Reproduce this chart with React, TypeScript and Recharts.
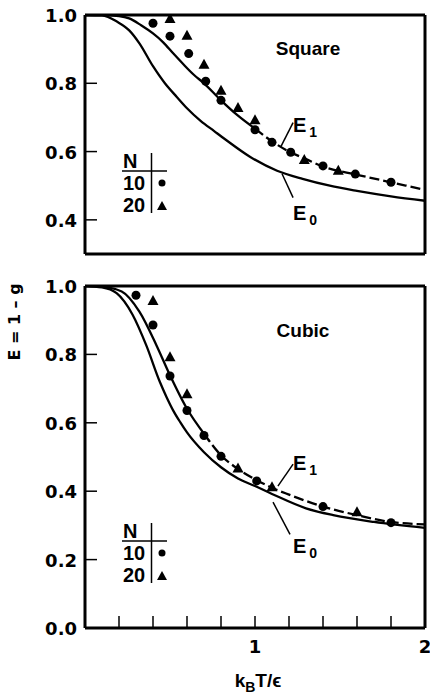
import React from "react";
import { ComposedChart, Line, Scatter, XAxis, YAxis, ReferenceLine } from "recharts";

// k_B T / epsilon positions of the inner tick marks
const X_TICKS = [0.2, 0.4, 0.6, 0.8, 1.0, 1.2, 1.4, 1.6, 1.8];
const X_TICKS_LABELLED = [0.2, 0.4, 0.6, 0.8, 1.0, 1.2, 1.4, 1.6, 1.8, 2.0];
const SQUARE_Y_TICKS = [0.4, 0.6, 0.8, 1.0];
const CUBIC_Y_TICKS = [0.0, 0.2, 0.4, 0.6, 0.8, 1.0];

// Square lattice
const squareE0: [number, number][] = [
  [0, 1.0], [0.1, 0.999], [0.19, 0.98], [0.26, 0.955], [0.32, 0.917], [0.4, 0.85],
  [0.47, 0.8], [0.54, 0.76], [0.6, 0.727], [0.68, 0.69], [0.76, 0.66], [0.83, 0.634],
  [0.97, 0.585], [1.13, 0.544], [1.28, 0.52], [1.44, 0.5], [1.6, 0.485], [1.8, 0.469], [2.0, 0.456],
];
const squareE1: [number, number][] = [
  [0, 1.0], [0.1, 1.0], [0.2, 0.997], [0.26, 0.99], [0.33, 0.97], [0.4, 0.946], [0.46, 0.92],
  [0.52, 0.887], [0.58, 0.855], [0.64, 0.825], [0.7, 0.8], [0.8, 0.75], [0.9, 0.705], [1.0, 0.667],
  [1.1, 0.63], [1.2, 0.6], [1.3, 0.578], [1.4, 0.556], [1.6, 0.532], [1.8, 0.51], [2.0, 0.488],
];
const squareN10: [number, number][] = [
  [0.4, 0.976], [0.5, 0.938], [0.61, 0.887], [0.71, 0.806], [0.8, 0.75], [1.0, 0.664],
  [1.1, 0.627], [1.21, 0.598], [1.4, 0.558], [1.59, 0.534], [1.8, 0.51],
];
const squareN20: [number, number][] = [
  [0.5, 0.987], [0.6, 0.938], [0.7, 0.853], [0.8, 0.777], [0.9, 0.726], [1.0, 0.69],
  [1.29, 0.574], [1.49, 0.542],
];

// Cubic lattice
const cubicE0: [number, number][] = [
  [0, 1.0], [0.1, 0.996], [0.186, 0.979], [0.28, 0.916], [0.36, 0.827], [0.44, 0.72],
  [0.48, 0.675], [0.52, 0.635], [0.56, 0.602], [0.6, 0.572], [0.7, 0.514], [0.8, 0.47],
  [0.9, 0.437], [1.0, 0.415], [1.1, 0.392], [1.3, 0.35], [1.46, 0.33], [1.7, 0.31], [2.0, 0.293],
];
const cubicE1: [number, number][] = [
  [0, 1.0], [0.1, 0.998], [0.216, 0.984], [0.32, 0.925], [0.42, 0.827], [0.5, 0.739],
  [0.6, 0.641], [0.7, 0.568], [0.8, 0.505], [0.9, 0.465], [1.0, 0.435], [1.1, 0.41],
  [1.2, 0.39], [1.4, 0.355], [1.6, 0.33], [1.8, 0.31], [2.0, 0.303],
];
const cubicN10: [number, number][] = [
  [0.3, 0.973], [0.4, 0.886], [0.5, 0.737], [0.6, 0.636], [0.7, 0.563], [0.8, 0.502],
  [1.01, 0.43], [1.4, 0.355], [1.8, 0.308],
];
const cubicN20: [number, number][] = [
  [0.4, 0.955], [0.5, 0.79], [0.6, 0.682], [0.9, 0.465], [1.1, 0.41], [1.6, 0.337],
];

// leader lines from curve labels to curves
const squareLeaders: [number, number, number, number][] = [
  [1.224, 0.685, 1.153, 0.615],
  [1.159, 0.535, 1.224, 0.465],
];
const cubicLeaders: [number, number, number, number][] = [
  [1.224, 0.479, 1.135, 0.415],
  [1.106, 0.368, 1.206, 0.274],
];

const toPts = (arr: [number, number][]) => arr.map(([x, y]) => ({ x, y }));

const FONT = "'DejaVu Sans', sans-serif";
const HELV = "'Liberation Sans', Arial, sans-serif";

const Circle = (p: any) => <circle cx={p.cx} cy={p.cy} r={4.5} fill="#000" />;
const Triangle = (p: any) => (
  <path
    d={`M${p.cx},${p.cy - 6.5}L${p.cx + 5.5},${p.cy + 3.5}L${p.cx - 5.5},${p.cy + 3.5}Z`}
    fill="#000"
  />
);

const YTick = (p: any) => (
  <text x={p.x - 20} y={p.y + 7} textAnchor="end" fontFamily={FONT} fontWeight="bold" fontSize={18} fill="#000">
    {Number(p.payload.value).toFixed(1)}
  </text>
);

const XTick = (p: any) =>
  Number.isInteger(p.payload.value) ? (
    <text x={p.x} y={p.y + 37} textAnchor="middle" fontFamily={FONT} fontWeight="bold" fontSize={18} fill="#000">
      {p.payload.value}
    </text>
  ) : (
    <g />
  );

const axisLine = { stroke: "#000", strokeWidth: 3 };
const tickLine = { stroke: "#000", strokeWidth: 1.5 };

interface PanelProps {
  e0: [number, number][];
  e1: [number, number][];
  n10: [number, number][];
  n20: [number, number][];
  yDomain: [number, number];
  yTicks: number[];
  dashFrom: number;
  height: number;
  topH: number;
  bottomH: number;
  xLabels: boolean;
  leaders: [number, number, number, number][];
}

function Panel({ e0, e1, n10, n20, yDomain, yTicks, dashFrom, height, topH, bottomH, xLabels, leaders }: PanelProps) {
  const e1Solid = toPts(e1.filter(([x]) => x <= dashFrom));
  const e1Dash = toPts(e1.filter(([x]) => x >= dashFrom));
  return (
    <ComposedChart width={430} height={height} margin={{ top: 0, right: 0, bottom: 0, left: 0 }}>
      <XAxis
        xAxisId="b"
        dataKey="x"
        type="number"
        domain={[0, 2]}
        ticks={xLabels ? X_TICKS_LABELLED : X_TICKS}
        interval={0}
        orientation="bottom"
        height={bottomH}
        tickSize={-12}
        tickMargin={0}
        axisLine={axisLine}
        tickLine={tickLine}
        tick={xLabels ? XTick : false}
        allowDataOverflow
      />
      <XAxis
        xAxisId="t"
        dataKey="x"
        type="number"
        domain={[0, 2]}
        ticks={X_TICKS}
        interval={0}
        orientation="top"
        height={topH}
        tickSize={-12}
        axisLine={axisLine}
        tickLine={tickLine}
        tick={false}
        allowDataOverflow
      />
      <YAxis
        yAxisId="l"
        dataKey="y"
        type="number"
        domain={yDomain}
        ticks={yTicks}
        interval={0}
        width={85}
        tickSize={-12}
        tickMargin={0}
        axisLine={axisLine}
        tickLine={tickLine}
        tick={YTick}
        allowDataOverflow
      />
      <YAxis
        yAxisId="r"
        dataKey="y"
        type="number"
        orientation="right"
        domain={yDomain}
        ticks={yTicks}
        interval={0}
        width={5}
        tickSize={-12}
        axisLine={axisLine}
        tickLine={tickLine}
        tick={false}
        allowDataOverflow
      />
      <Line xAxisId="b" yAxisId="l" data={toPts(e0)} dataKey="y" type="monotone" stroke="#000" strokeWidth={2.3} dot={false} isAnimationActive={false} />
      <Line xAxisId="b" yAxisId="l" data={e1Solid} dataKey="y" type="monotone" stroke="#000" strokeWidth={2.3} dot={false} isAnimationActive={false} />
      <Line xAxisId="b" yAxisId="l" data={e1Dash} dataKey="y" type="monotone" stroke="#000" strokeWidth={2.3} strokeDasharray="10 4" dot={false} isAnimationActive={false} />
      {leaders.map(([x1, y1, x2, y2], i) => (
        <ReferenceLine
          key={i}
          xAxisId="b"
          yAxisId="l"
          segment={[{ x: x1, y: y1 }, { x: x2, y: y2 }]}
          stroke="#000"
          strokeWidth={1.5}
        />
      ))}
      <Scatter xAxisId="b" yAxisId="l" data={toPts(n10)} dataKey="y" shape={Circle} isAnimationActive={false} />
      <Scatter xAxisId="b" yAxisId="l" data={toPts(n20)} dataKey="y" shape={Triangle} isAnimationActive={false} />
    </ComposedChart>
  );
}

function CurveLabel({ x, y, sub }: { x: number; y: number; sub: string }) {
  return (
    <text x={x} y={y} fontFamily={HELV} fontWeight="bold" fontSize={20} fill="#000">
      E
      <tspan fontSize={14} dx={3} dy={5}>
        {sub}
      </tspan>
    </text>
  );
}

function NLegend({ top }: { top: number }) {
  const t = (dy: number) => top + dy;
  return (
    <g fontFamily={HELV} fontWeight="bold" fontSize={20} fill="#000">
      <text x={123} y={t(15)}>N</text>
      <line x1={122} x2={167} y1={t(18)} y2={t(18)} stroke="#000" strokeWidth={1.5} />
      <line x1={151.5} x2={151.5} y1={t(0)} y2={t(60)} stroke="#000" strokeWidth={1.5} />
      <text x={123} y={t(37)}>10</text>
      <circle cx={162} cy={t(30)} r={3.5} fill="#000" />
      <text x={123} y={t(59)}>20</text>
      <path d={`M162,${t(48)}L167,${t(57)}L157,${t(57)}Z`} fill="#000" />
    </g>
  );
}

export default function App() {
  return (
    <div style={{ position: "absolute", left: 0, top: 0, width: 430, height: 699, background: "#fff" }}>
      <div style={{ position: "absolute", left: 0, top: 0 }}>
        <Panel
          e0={squareE0}
          e1={squareE1}
          n10={squareN10}
          n20={squareN20}
          yDomain={[0.3, 1.0]}
          yTicks={SQUARE_Y_TICKS}
          dashFrom={1.0}
          height={270}
          topH={15}
          bottomH={16}
          xLabels={false}
          leaders={squareLeaders}
        />
      </div>
      <div style={{ position: "absolute", left: 0, top: 270 }}>
        <Panel
          e0={cubicE0}
          e1={cubicE1}
          n10={cubicN10}
          n20={cubicN20}
          yDomain={[0, 1.0]}
          yTicks={CUBIC_Y_TICKS}
          dashFrom={0.7}
          height={429}
          topH={16}
          bottomH={71}
          xLabels={true}
          leaders={cubicLeaders}
        />
      </div>
      <svg width={430} height={699} style={{ position: "absolute", left: 0, top: 0, pointerEvents: "none" }}>
        <text x={308} y={55} textAnchor="middle" fontFamily={HELV} fontWeight="bold" fontSize={19} fill="#000">Square</text>
        <text x={303} y={337} textAnchor="middle" fontFamily={HELV} fontWeight="bold" fontSize={19} fill="#000">Cubic</text>
        <CurveLabel x={293} y={132} sub="1" />
        <CurveLabel x={293} y={220} sub="0" />
        <CurveLabel x={293} y={470} sub="1" />
        <CurveLabel x={293} y={553} sub="0" />
        <NLegend top={153} />
        <NLegend top={523} />
        <text
          transform="translate(20,322) rotate(-90)"
          textAnchor="middle"
          fontFamily={FONT}
          fontWeight="bold"
          fontSize={16}
          fill="#000"
        >
          E = 1 – g
        </text>
        <text x={258} y={687} textAnchor="middle" fontFamily={HELV} fontWeight="bold" fontSize={19} fill="#000">
          k<tspan fontSize={14} dy={5}>B</tspan>
          <tspan dy={-5}>T/ϵ</tspan>
        </text>
      </svg>
    </div>
  );
}
